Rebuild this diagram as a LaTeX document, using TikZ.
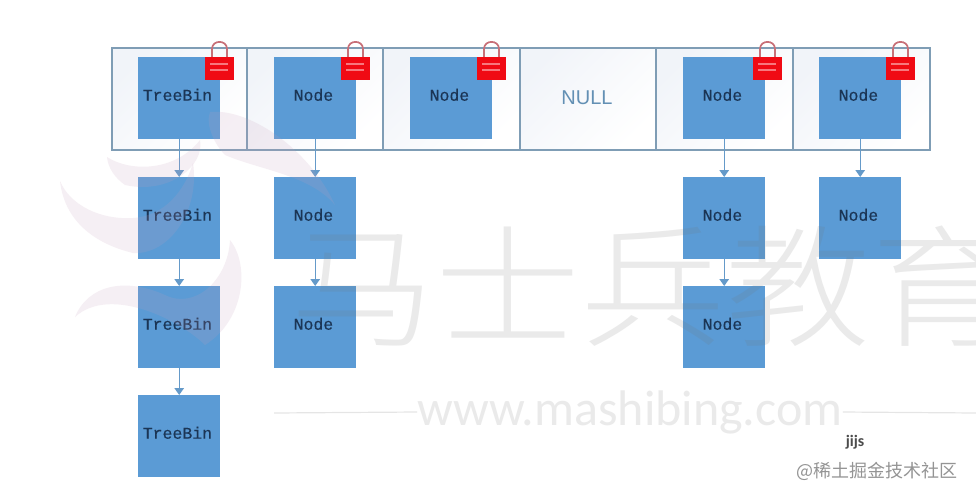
\documentclass[tikz,border=0pt]{standalone}
\usepackage{fontspec}
\setmainfont{Liberation Sans}
\newfontfamily\cjkf{Noto Sans CJK SC}
\newfontfamily\cjkl{Noto Sans CJK SC Light}
\newfontfamily\monof[FakeBold=0.25]{Liberation Mono}
\newfontfamily\carl{Carlito}
\usetikzlibrary{arrows.meta}
\definecolor{boxblue}{HTML}{5B9BD5}
\definecolor{cellline}{HTML}{7F9DB5}
\definecolor{cellbg}{HTML}{F1F4F9}
\definecolor{nulltxt}{HTML}{6390B4}
\definecolor{arrowblue}{HTML}{659AC9}
\definecolor{txtdark}{HTML}{1B3555}
\definecolor{locked}{HTML}{F00A14}
\definecolor{shackle}{HTML}{C87078}
\definecolor{swooshc}{HTML}{C79DBB}
\tikzset{
  x=1pt,y=-1pt,
  cell/.style={draw=cellline,line width=1.5pt,inner sep=0,anchor=north west,minimum height=102pt,left color=cellbg,right color=white,shading angle=45},
  bluebox/.style={fill=boxblue,draw=none,inner sep=0,minimum width=82pt,minimum height=82pt,anchor=north west,
    font=\monof\fontsize{16.5}{18}\selectfont,text=txtdark,text height=9pt,text depth=4pt,execute at end node={\hspace*{3.5pt}}},
  link/.style={draw=arrowblue,line width=1.4pt,-{Triangle[width=9.5pt,length=7pt]}},
  wm/.style={inner sep=0,text=black!55,opacity=.15},
  wmline/.style={draw=black!60,line width=1.2pt,opacity=.17},
  swoosh/.style={fill=swooshc,opacity=.16,draw=none}
}
\newcommand{\padlock}[2]{%
  \draw[draw=shackle,line width=1.7pt] (#1+7,#2) -- (#1+7,#2-8) .. controls (#1+7,#2-17.5) and (#1+22,#2-17.5) .. (#1+22,#2-8) -- (#1+22,#2);
  \fill[locked] (#1,#2) rectangle (#1+29,#2+23);
  \fill[white!45!locked] (#1+5,#2+6) rectangle (#1+23,#2+7.5);
  \fill[white!45!locked] (#1+5,#2+12) rectangle (#1+23,#2+13.5);
}
\begin{document}
\begin{tikzpicture}
\useasboundingbox[fill=white] (0,0) rectangle (976,498);
% table cells
\node[cell,minimum width=135pt] (c1) at (111,47) {};
\node[cell,minimum width=136pt] (c2) at (246,47) {};
\node[cell,minimum width=137pt] (c3) at (382,47) {};
\node[cell,minimum width=136pt] (c4) at (519,47) {};
\node[cell,minimum width=137pt] (c5) at (655,47) {};
\node[cell,minimum width=137pt] (c6) at (792,47) {};
\node[font=\fontsize{20}{22}\selectfont,text=nulltxt] (null) at (587,98) {NULL};
% top row
\node[bluebox] (a1) at (138,57) {TreeBin};
\node[bluebox] (b1) at (274,57) {Node};
\node[bluebox] (n1) at (410,57) {Node};
\node[bluebox] (d1) at (683,57) {Node};
\node[bluebox] (e1) at (819,57) {Node};
% chains
\node[bluebox] (a2) at (138,177) {TreeBin};
\node[bluebox] (a3) at (138,286) {TreeBin};
\node[bluebox] (a4) at (138,395) {TreeBin};
\node[bluebox] (b2) at (274,177) {Node};
\node[bluebox] (b3) at (274,286) {Node};
\node[bluebox] (d2) at (683,177) {Node};
\node[bluebox] (d3) at (683,286) {Node};
\node[bluebox] (e2) at (819,177) {Node};
% connectors
\draw[link] (a1) -- (a2);
\draw[link] (a2) -- (a3);
\draw[link] (a3) -- (a4);
\draw[link] (b1) -- (b2);
\draw[link] (b2) -- (b3);
\draw[link] (d1) -- (d2);
\draw[link] (d2) -- (d3);
\draw[link] (e1) -- (e2);
% locks
\padlock{205}{57}
\padlock{341}{57}
\padlock{477}{57}
\padlock{753}{57}
\padlock{886}{57}
% watermark
\fill[swoosh] (107,157) .. controls (130,172) and (175,172) .. (200,140) .. controls (205,165) and (170,195) .. (125,185) .. controls (115,178) and (108,168) .. (107,157) -- cycle;
\fill[swoosh] (210,112) .. controls (250,108) and (310,150) .. (335,205) .. controls (310,175) and (260,170) .. (225,155) .. controls (215,145) and (205,125) .. (210,112) -- cycle;
\fill[swoosh] (60,181) .. controls (70,205) and (100,220) .. (133,218) .. controls (165,216) and (185,190) .. (193,163) .. controls (200,210) and (170,255) .. (133,253) .. controls (100,245) and (65,225) .. (60,181) -- cycle;
\fill[swoosh] (75,317) .. controls (88,285) and (125,277) .. (165,295) .. controls (195,310) and (228,280) .. (230,240) .. controls (250,265) and (245,320) .. (205,345) .. controls (180,320) and (110,285) .. (75,317) -- cycle;
\node[wm,font=\cjkl\fontsize{132}{140}\selectfont,anchor=west,transform shape,xscale=1.1] (wmt) at (290,286) {马士兵教育};
\node[wm,font=\carl\fontsize{50}{54}\selectfont] (wmu) at (630,412) {www.mashibing.com};
\draw[wmline] (274,413) -- (wmu.west);
\draw[wmline] (wmu.east) -- (976,413);
\node[font=\carl\bfseries\fontsize{16}{18}\selectfont,text=black!70] (jijs) at (855,442) {jijs};
\node[font=\cjkf\fontsize{18}{20}\selectfont,text=black!42,anchor=east] (juejin) at (961,471) {@稀土掘金技术社区};
\end{tikzpicture}
\end{document}
